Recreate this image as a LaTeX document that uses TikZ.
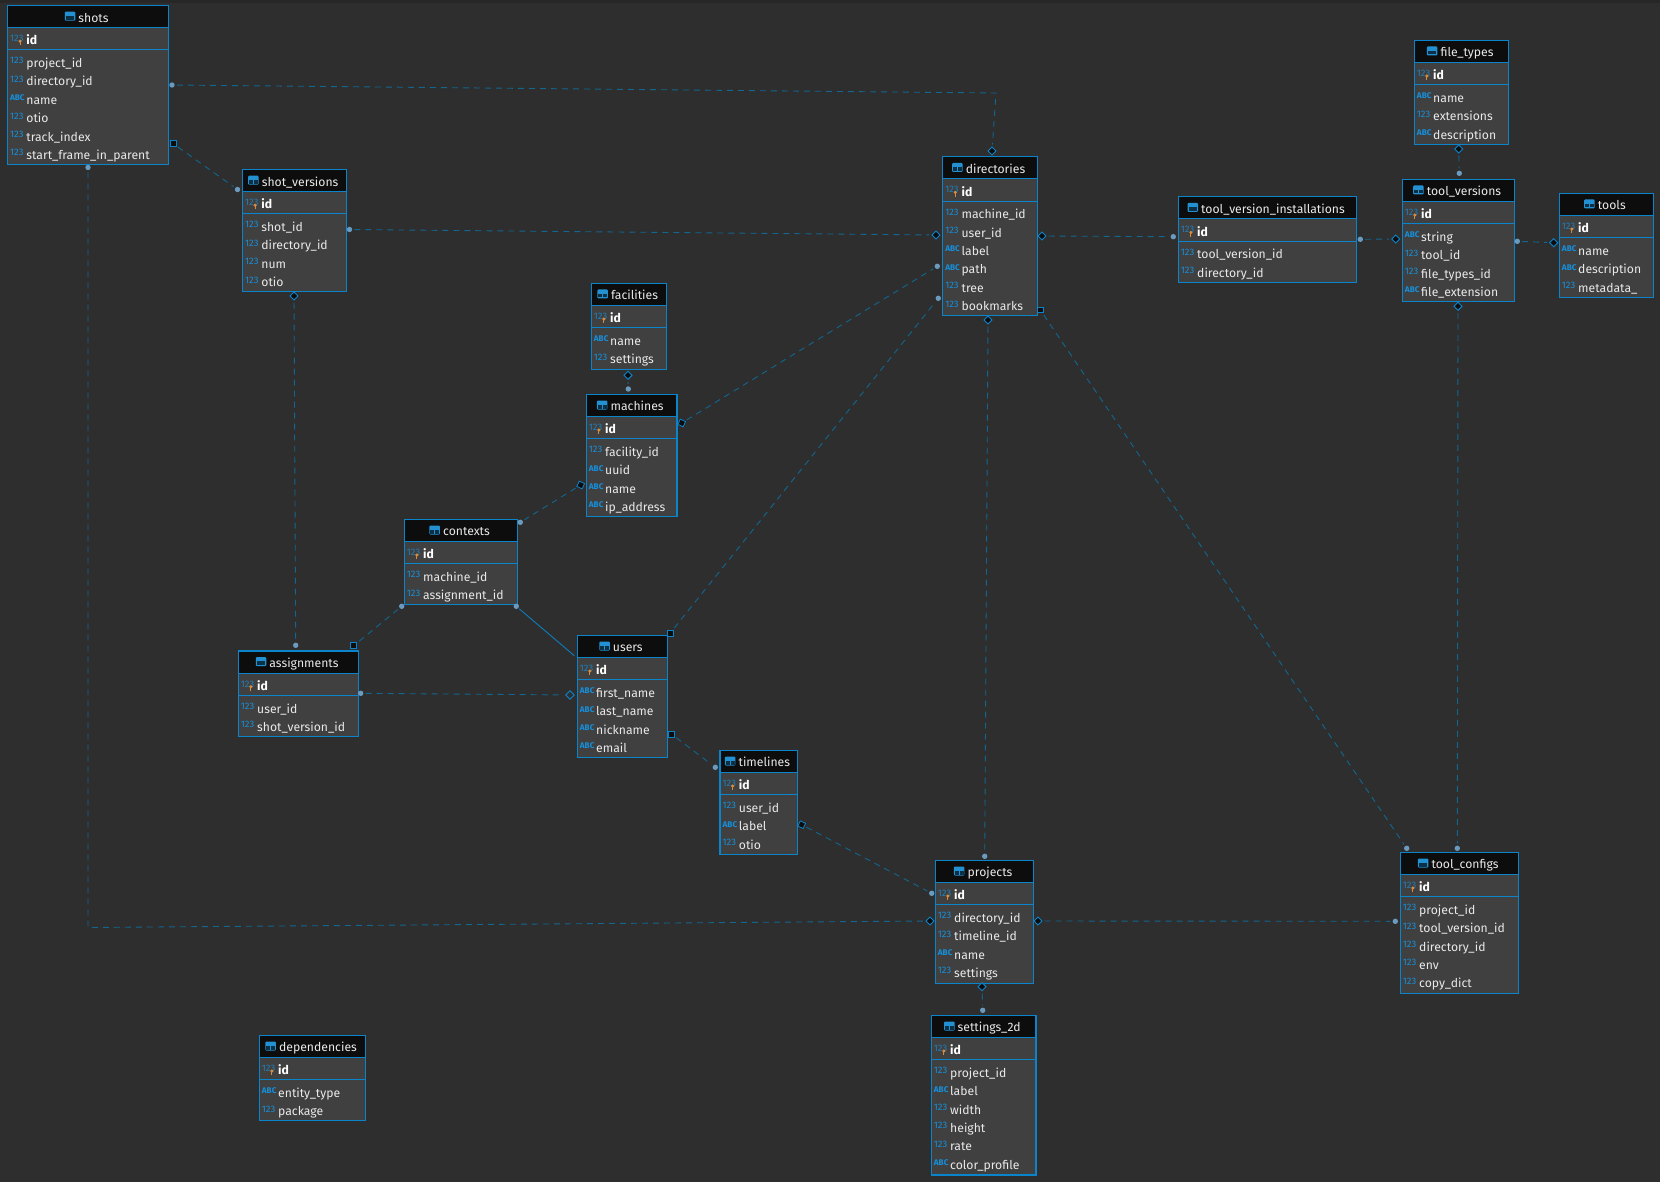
\documentclass[tikz,border=0pt]{standalone}
\usepackage{fontspec}
\setmainfont{Fira Sans}
\usetikzlibrary{shapes.geometric}
\definecolor{bgc}{HTML}{2E2E2E}
\definecolor{bgtop}{HTML}{272727}
\definecolor{bodyc}{HTML}{404040}
\definecolor{headc}{HTML}{0D0D0D}
\definecolor{bordc}{HTML}{0A85CC}
\definecolor{linec}{HTML}{12668F}
\definecolor{solidc}{HTML}{0C7DBC}
\definecolor{dotc}{HTML}{6A9BBF}
\definecolor{txtc}{HTML}{E9E9E9}
\definecolor{typec}{HTML}{1590DC}
\definecolor{keyc}{HTML}{D98A3A}
\newcommand{\rowfont}{\fontsize{12.2}{14}\selectfont}
\newcommand{\typefont}{\fontsize{9.4}{10}\selectfont}
\tikzset{
  x=1pt,y=-1pt,
  tablebox/.style={draw=bordc,line width=1.2pt,fill=bodyc,inner sep=0pt,rectangle},
  titletext/.style={anchor=base,inner sep=0pt,text=txtc,font=\rowfont},
  rowtext/.style={anchor=base west,inner sep=0pt,text=txtc,font=\rowfont},
  idtext/.style={anchor=base west,inner sep=0pt,text=white,font=\rowfont\bfseries},
  typetext/.style={anchor=base west,inner sep=0pt,text=typec,font=\typefont},
  seprule/.style={draw=bordc,line width=0.9pt},
  conn/.style={draw=linec,line width=0.9pt,dash pattern=on 6pt off 5pt,shorten >=2pt,shorten <=2pt},
  solidconn/.style={draw=solidc,line width=0.9pt,shorten <=1pt},
  mdot/.style={circle,fill=dotc,draw=none,minimum size=5.4pt,inner sep=0pt},
  mdia/.style={diamond,aspect=1,fill=headc,draw=bordc,line width=0.9pt,minimum size=8.5pt,inner sep=0pt},
  mhol/.style={diamond,aspect=1,fill=bgc,draw=bordc,line width=0.9pt,minimum size=9pt,inner sep=0pt},
  msq/.style={rectangle,fill=headc,draw=bordc,line width=0.8pt,minimum size=5.8pt,inner sep=0pt},
}
% #1 name, #2 x1, #3 y1, #4 x2, #5 y2, #6 title, #7 rows
\newcommand{\dbtable}[7]{%
  \pgfmathsetmacro{\tw}{#4-#2}\pgfmathsetmacro{\th}{#5-#3}%
  \node[tablebox,minimum width=\tw pt,minimum height=\th pt] (#1) at ({(#2+#4)/2},{(#3+#5)/2}) {};
  \fill[headc] (#2+0.6,#3+0.6) rectangle (#4-0.6,#3+22);
  \draw[seprule] (#2,#3+22) -- (#4,#3+22);
  \draw[seprule] (#2,#3+44.3) -- (#4,#3+44.3);
  \node[titletext] (#1-title) at ({(#2+#4)/2+5.5},#3+16.6) {#6};
  % table icon
  \path (#1-title.base west) ++(-13.5,-10.4) coordinate (#1-ic);
  \fill[rounded corners=1pt,fill=bordc!90!white] (#1-ic) rectangle ++(10.5,9);
  \fill[headc!70!bordc] (#1-ic) ++(1,4.2) rectangle ++(4,3.8);
  \fill[headc!70!bordc] (#1-ic) ++(5.6,4.2) rectangle ++(4,3.8);
  % id row
  \node[typetext,text=typec!80!bodyc] (#1-idt) at (#2+2.4,#3+36) {123};
  \fill[keyc] (#2+12.6,#3+35.7) circle (1.7);
  \draw[keyc,line width=1pt] (#2+12.6,#3+36.5) -- (#2+12.6,#3+40);
  \node[idtext] (#1-id) at (#2+18.7,#3+39.4) {id};
  \foreach \ty/\nm [count=\ri] in {#7}{
    \pgfmathsetmacro{\ry}{#3+62+(\ri-1)*18.4}
    \node[typetext] (#1-t\ri) at (#2+2.4,\ry-3.6) {\ty};
    \node[rowtext] (#1-r\ri) at (#2+18.7,\ry) {\nm};
  }
}
\newcommand{\nA}{123}
\newcommand{\sB}{{\fontsize{8.2}{9}\selectfont\bfseries ABC}}
\begin{document}
\begin{tikzpicture}
\useasboundingbox (0,0) rectangle (1660,1182);
\fill[bgc] (0,0) rectangle (1660,1182);
\fill[bgtop] (0,0) rectangle (1660,3);

\dbtable{shots}{7.5}{5.5}{168.5}{164.5}{shots}{\nA/project\_id,\nA/directory\_id,\sB/name,\nA/otio,\nA/track\_index,\nA/start\_frame\_in\_parent}
\dbtable{shotversions}{242.5}{169.5}{346.7}{291.7}{shot\_versions}{\nA/shot\_id,\nA/directory\_id,\nA/num,\nA/otio}
\dbtable{directories}{942.7}{156.7}{1037.3}{315.3}{directories}{\nA/machine\_id,\nA/user\_id,\sB/label,\sB/path,\nA/tree,\nA/bookmarks}
\dbtable{tvi}{1178.3}{196.7}{1356.7}{282.7}{tool\_version\_installations}{\nA/tool\_version\_id,\nA/directory\_id}
\dbtable{filetypes}{1414.3}{40.3}{1508.7}{144.7}{file\_types}{\sB/name,\nA/extensions,\sB/description}
\dbtable{toolversions}{1402.3}{179.3}{1514.7}{301.7}{tool\_versions}{\sB/string,\nA/tool\_id,\nA/file\_types\_id,\sB/file\_extension}
\dbtable{tools}{1559.3}{193.3}{1653.3}{297.3}{tools}{\sB/name,\sB/description,\nA/metadata\_}
\dbtable{facilities}{591.3}{283.3}{666.7}{369.3}{facilities}{\sB/name,\nA/settings}
\dbtable{machines}{586.3}{394.3}{677}{516.7}{machines}{\nA/facility\_id,\sB/uuid,\sB/name,\sB/ip\_address}
\dbtable{contexts}{404.3}{519.3}{517.7}{604.7}{contexts}{\nA/machine\_id,\nA/assignment\_id}
\dbtable{users}{577.3}{635.3}{667.3}{757.3}{users}{\sB/first\_name,\sB/last\_name,\sB/nickname,\sB/email}
\dbtable{assignments}{238.3}{651}{358.7}{736.7}{assignments}{\nA/user\_id,\nA/shot\_version\_id}
\dbtable{timelines}{720}{750.3}{797.7}{854.7}{timelines}{\nA/user\_id,\sB/label,\nA/otio}
\dbtable{projects}{935.3}{860.3}{1033.7}{983.7}{projects}{\nA/directory\_id,\nA/timeline\_id,\sB/name,\nA/settings}
\dbtable{toolconfigs}{1400.3}{852.3}{1518.7}{993.7}{tool\_configs}{\nA/project\_id,\nA/tool\_version\_id,\nA/directory\_id,\nA/env,\nA/copy\_dict}
\dbtable{settings}{931.3}{1015.3}{1036}{1175}{settings\_2d}{\nA/project\_id,\sB/label,\nA/width,\nA/height,\nA/rate,\sB/color\_profile}
\dbtable{dependencies}{259.3}{1035.3}{365.7}{1120.7}{dependencies}{\sB/entity\_type,\nA/package}

% connector end marks
\node[mdot] (shotsR) at (172,85) {};
\node[mdia] (dirT) at (992,151) {};
\coordinate (elbowA) at (996,93);
\node[msq] (shotsS) at (173,143.5) {};
\node[mdot] (svL) at (237.5,189.5) {};
\node[mdot] (svR) at (349.5,229.5) {};
\node[mdia] (dirL) at (936,235) {};
\node[mdia] (svB) at (294,296) {};
\node[mdot] (asgT) at (295.7,645.3) {};
\node[mdot] (shotsB) at (88,167.5) {};
\coordinate (elbowB) at (88,927.5);
\node[mdia] (prjL) at (930,921) {};
\node[mdia] (facB) at (628,375.3) {};
\node[mdot] (macT) at (628.3,389) {};
\node[msq,rotate=-25] (macR) at (681.7,423) {};
\node[mdot] (dirM) at (937.3,266.3) {};
\node[msq,rotate=-25] (macL) at (580.7,485) {};
\node[mdot] (ctxT) at (520.3,522.3) {};
\node[mdot] (ctxBL) at (401.7,606.3) {};
\node[msq] (asgS) at (353.7,645.7) {};
\node[mdot] (ctxBR) at (516.3,606.3) {};
\coordinate (usrC) at (574.3,655.7);
\node[mdot] (asgR) at (360.7,693.3) {};
\node[mhol] (usrL) at (570,695) {};
\node[msq] (usrT) at (670.3,633) {};
\node[mdot] (dirN) at (938.3,298.3) {};
\node[msq] (usrR) at (671.3,734) {};
\node[mdot] (tlL) at (715.3,767.3) {};
\node[msq,rotate=-25] (tlR) at (801.7,824.7) {};
\node[mdot] (prjK) at (931.7,893.3) {};
\node[mdia] (dirB) at (988,320) {};
\node[mdot] (prjT) at (984.7,856.3) {};
\node[msq] (dirS) at (1040.3,310) {};
\node[mdot] (tcA) at (1406.7,848.3) {};
\node[mdia] (dirR) at (1042,236) {};
\node[mdot] (tviL) at (1173.3,236.7) {};
\node[mdot] (tviR) at (1360.3,239.3) {};
\node[mdia] (tvL) at (1395.7,239) {};
\node[mdia] (ftB) at (1458.7,149) {};
\node[mdot] (tvT) at (1459.3,173.3) {};
\node[mdot] (tvR) at (1517.3,241.3) {};
\node[mdia] (toolL) at (1553.7,242.7) {};
\node[mdia] (tvB) at (1458,306.3) {};
\node[mdot] (tcB) at (1457.3,848.3) {};
\node[mdia] (prjR) at (1038,921) {};
\node[mdot] (tcL) at (1395.3,921.3) {};
\node[mdia] (prjB) at (982,986.7) {};
\node[mdot] (setT) at (982.7,1010.3) {};

% connectors
\draw[conn] (shotsR) -- (elbowA) -- (dirT);
\draw[conn] (shotsS) -- (svL);
\draw[conn] (svR) -- (dirL);
\draw[conn] (svB) -- (asgT);
\draw[conn] (shotsB) -- (elbowB) -- (prjL);
\draw[conn] (facB) -- (macT);
\draw[conn] (macR) -- (dirM);
\draw[conn] (macL) -- (ctxT);
\draw[conn] (ctxBL) -- (asgS);
\draw[solidconn] (ctxBR) -- (usrC);
\draw[conn] (asgR) -- (usrL);
\draw[conn] (usrT) -- (dirN);
\draw[conn] (usrR) -- (tlL);
\draw[conn] (tlR) -- (prjK);
\draw[conn] (dirB) -- (prjT);
\draw[conn] (dirS) -- (tcA);
\draw[conn] (dirR) -- (tviL);
\draw[conn] (tviR) -- (tvL);
\draw[conn] (ftB) -- (tvT);
\draw[conn] (tvR) -- (toolL);
\draw[conn] (tvB) -- (tcB);
\draw[conn] (prjR) -- (tcL);
\draw[conn] (prjB) -- (setT);
\end{tikzpicture}
\end{document}
